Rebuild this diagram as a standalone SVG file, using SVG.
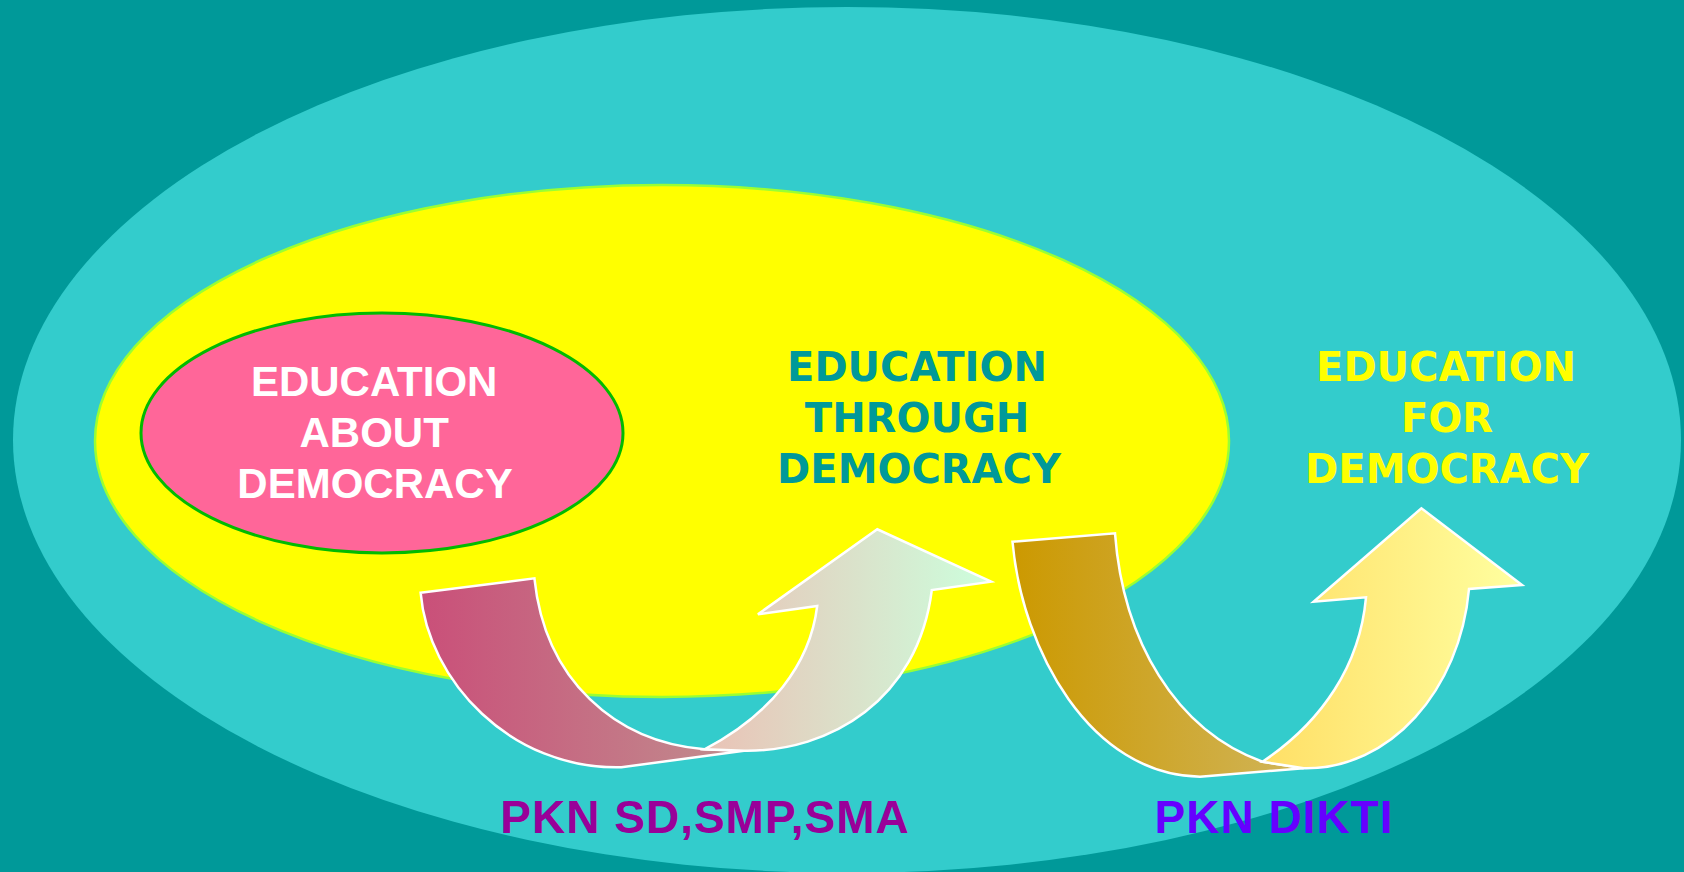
<svg xmlns="http://www.w3.org/2000/svg" width="1684" height="872" viewBox="0 0 1684 872">
  <style>
    .arial { font-family: "Liberation Sans", Arial, sans-serif; font-weight: bold; text-anchor: middle; }
    .verd { font-family: "DejaVu Sans", Verdana, sans-serif; font-weight: bold; text-anchor: middle; font-size: 40px; }
    .arrow { stroke: #FFFFFF; stroke-width: 2.5; stroke-linejoin: miter; }
  </style>
  <defs>
    <linearGradient id="g1a" gradientUnits="userSpaceOnUse" x1="420" y1="0" x2="744" y2="0">
      <stop offset="0" stop-color="#CA4F79"/>
      <stop offset="1" stop-color="#C08E8E"/>
    </linearGradient>
    <linearGradient id="g1b" gradientUnits="userSpaceOnUse" x1="704" y1="0" x2="991" y2="0">
      <stop offset="0" stop-color="#EAC2B6"/>
      <stop offset="1" stop-color="#CCFFDD"/>
    </linearGradient>
    <linearGradient id="g2a" gradientUnits="userSpaceOnUse" x1="1012" y1="0" x2="1296" y2="0">
      <stop offset="0" stop-color="#CC9900"/>
      <stop offset="1" stop-color="#D0B458"/>
    </linearGradient>
    <linearGradient id="g2b" gradientUnits="userSpaceOnUse" x1="1262" y1="0" x2="1522" y2="0">
      <stop offset="0" stop-color="#FFDF66"/>
      <stop offset="1" stop-color="#FFFFA0"/>
    </linearGradient>
  </defs>

  <!-- background and nested scopes -->
  <rect x="0" y="0" width="1684" height="872" fill="#009999"/>
  <g id="outer">
    <ellipse cx="847" cy="440" rx="834" ry="433" fill="#33CCCC"/>
  </g>
  <g id="through">
    <ellipse cx="662" cy="441" rx="567" ry="256" fill="#FFFF00" stroke="#99FF33" stroke-width="2.5"/>
  </g>
  <g id="about">
    <ellipse cx="382" cy="433" rx="241" ry="120" fill="#FF6699" stroke="#00BB00" stroke-width="3"/>
    <text class="arial" font-size="42" fill="#FFFFFF">
      <tspan x="380" y="396">EDUCATION</tspan>
      <tspan x="380" y="447">ABOUT</tspan>
      <tspan x="375" y="498">DEMOCRACY</tspan>
    </text>
  </g>
  <g id="through-label">
    <text class="verd" fill="#009999">
      <tspan x="924" y="381">EDUCATION</tspan>
      <tspan x="924" y="432">THROUGH</tspan>
      <tspan x="919" y="483">DEMOCRACY</tspan>
    </text>
  </g>
  <g id="for-label">
    <text class="verd" fill="#FFFF00">
      <tspan x="1453" y="381">EDUCATION</tspan>
      <tspan x="1454" y="432">FOR</tspan>
      <tspan x="1447" y="483">DEMOCRACY</tspan>
    </text>
  </g>

  <!-- curved transition arrows -->
  <g id="connectors">
    <g id="arrow-school">
      <path class="arrow" fill="url(#g1a)" d="M420.6,592.7 L534.4,578.3 C545,680 615,742 704.5,749.3 L744,750.7 L621.4,767.3 C510,770 428,680 420.6,592.7 Z"/>
      <path class="arrow" fill="url(#g1b)" d="M704.5,749.3 C770,715 810,665 817.2,606 L757.9,614.3 L877.3,529.3 L991.1,581.7 L931.8,590 C918,700 830,752 744,750.7 Z"/>
    </g>
    <g id="arrow-dikti">
      <path class="arrow" fill="url(#g2a)" d="M1012.5,541.7 L1115,533.3 C1123,640 1175,730 1262.5,761.7 L1303.6,768.3 L1200,776.7 C1090,775 1022,650 1012.5,541.7 Z"/>
      <path class="arrow" fill="url(#g2b)" d="M1262.5,761.7 C1322,722 1360,665 1366,597.3 L1313.6,601.7 L1421.4,508.3 L1522,585 L1469,589 C1460,690 1390,770 1303.6,768.3 Z"/>
    </g>
  </g>

  <g id="label-school">
    <text class="arial" font-size="46" letter-spacing="1" fill="#990099" x="705" y="833">PKN SD,SMP,SMA</text>
  </g>
  <g id="label-dikti">
    <text class="arial" font-size="46" letter-spacing="1" fill="#6600FF" x="1274" y="833">PKN DIKTI</text>
  </g>
</svg>
